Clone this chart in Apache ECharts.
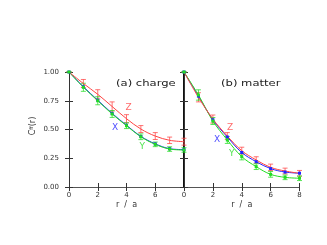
<!DOCTYPE html>
<html><head><meta charset="utf-8">
<script src="https://cdn.jsdelivr.net/npm/echarts@6/dist/echarts.min.js"></script>
<style>html,body{margin:0;padding:0;background:#fff}#c{width:327px;height:245px}</style>
</head><body><div id="c"></div>
<script>
var r = [0,1,2,3,4,5,6,7,8];
var xTicks = [0,2,4,6,8];
var yTicks = ['0.00','0.25','0.50','0.75','1.00'];
// (a) charge
var chargeZ = [1.00,0.90,0.806,0.70,0.594,0.504,0.443,0.406,0.394];
var chargeZerr = [0,0.035,0.04,0.04,0.035,0.03,0.03,0.028,0.03];
var chargeY = [1.00,0.867,0.75,0.635,0.533,0.437,0.371,0.33,0.322];
var chargeYerr = [0,0.035,0.035,0.03,0.025,0.025,0.02,0.02,0.02];
var chargeX = [1.00,0.872,0.755,0.64,0.537,0.44,0.375,0.333,0.325];
// (b) matter
var matterZ = [1.00,0.78,0.591,0.443,0.316,0.235,0.171,0.139,0.119];
var matterZerr = [0,0.04,0.035,0.03,0.03,0.028,0.028,0.025,0.025];
var matterY = [1.00,0.80,0.574,0.409,0.264,0.177,0.11,0.084,0.076];
var matterYerr = [0,0.045,0.03,0.03,0.028,0.025,0.025,0.02,0.02];
var matterX = [1.00,0.79,0.585,0.435,0.30,0.22,0.16,0.13,0.12];
// letter labels [r, value, text]
var chargeLabels = [[4.15,0.69,'Z'],[3.2,0.52,'X'],[5.1,0.35,'Y']];
var matterLabels = [[3.2,0.52,'Z'],[2.3,0.41,'X'],[3.3,0.29,'Y']];

var RED='#ff4444', GREEN='#22dd22', BLUE='#2222ff';
var font = 'DejaVu Sans';
function pairs(v){ return r.map(function(x,i){return [x,v[i]];}); }
function errSeries(xi, v, e, color){
  return {type:'custom', xAxisIndex:xi, yAxisIndex:xi, z:3,
    data: r.map(function(x,i){return [x, v[i]-e[i], v[i]+e[i]];}),
    renderItem: function(params, api){
      var lo = api.coord([api.value(0), api.value(1)]);
      var hi = api.coord([api.value(0), api.value(2)]);
      var w = 2.5;
      var st = {stroke: color, lineWidth: 1, opacity: 0.75};
      return {type:'group', children:[
        {type:'line', shape:{x1:lo[0],y1:lo[1],x2:hi[0],y2:hi[1]}, style:st},
        {type:'line', shape:{x1:lo[0]-w,y1:lo[1],x2:lo[0]+w,y2:lo[1]}, style:st},
        {type:'line', shape:{x1:hi[0]-w,y1:hi[1],x2:hi[0]+w,y2:hi[1]}, style:st}
      ]};
    }};
}
function lineSeries(xi, v, color, sym){
  return {type:'line', xAxisIndex:xi, yAxisIndex:xi, data: pairs(v), smooth:0.35,
    symbol: sym, symbolSize: 3, showSymbol: sym !== 'none',
    lineStyle:{color:color,width:1}, itemStyle:{color:color}, z:4};
}
function letterSeries(xi, labs){
  var cols = {Z:RED, X:BLUE, Y:GREEN};
  return {type:'scatter', xAxisIndex:xi, yAxisIndex:xi, symbolSize:0,
    data: labs.map(function(l){return {value:[l[0],l[1]], label:{show:true, formatter:l[2], color:cols[l[2]], fontSize:9, fontFamily:font, position:'inside'}};}),
    z:5};
}
function xAxisPair(gi, hideLast){
  var lab = {fontSize:7, color:'#333', fontFamily:font, margin:5,
    formatter: function(v){ if(hideLast && v===8) return ''; return String(v); }};
  return [
    {type:'value', gridIndex:gi, min:0, max:8, interval:2, position:'bottom',
     name:'r  /  a', nameLocation:'middle', nameGap:14, nameTextStyle:{fontSize:8,color:'#333',fontFamily:font},
     axisLine:{show:true,lineStyle:{color:'#333',width:1}}, axisTick:{show:true,inside:true,length:4,lineStyle:{color:'#333'}},
     axisLabel:lab, splitLine:{show:false}},
    {type:'value', gridIndex:gi, min:0, max:8, interval:2, position:'top',
     axisLine:{show:true,lineStyle:{color:'#555',width:1}}, axisTick:{show:true,inside:true,length:4,lineStyle:{color:'#333'}},
     axisLabel:{show:false}, splitLine:{show:false}}
  ];
}
function yAxisPair(gi, showLabels, leftWidth){
  return [
    {type:'value', gridIndex:gi, min:0, max:1, interval:0.25, position:'left',
     axisLine:{show:true,lineStyle:{color:'#111',width:leftWidth}}, axisTick:{show:true,inside:true,length:4,lineStyle:{color:'#333'}},
     axisLabel:{show:showLabels, fontSize:7, color:'#333', fontFamily:font, margin:10,
       formatter:function(v){return yTicks[Math.round(v*4)];}}, splitLine:{show:false}},
    {type:'value', gridIndex:gi, min:0, max:1, interval:0.25, position:'right',
     axisLine:{show:true,lineStyle:{color:'#333',width:1}}, axisTick:{show:true,inside:true,length:4,lineStyle:{color:'#333'}},
     axisLabel:{show:false}, splitLine:{show:false}}
  ];
}
var xa = xAxisPair(0,true).concat(xAxisPair(1,false));
var ya = yAxisPair(0,true,1).concat(yAxisPair(1,false,2));
var series = [];
function addPanel(gi, Z, Zerr, Y, Yerr, X, labs){
  var xi = gi*2;
  series.push(
    errSeries(xi, Z, Zerr, RED),
    errSeries(xi, Y, Yerr, GREEN),
    lineSeries(xi, X, BLUE, 'rect'),
    lineSeries(xi, Y, GREEN, 'rect'),
    lineSeries(xi, Z, RED, 'none'),
    letterSeries(xi, labs)
  );
}
addPanel(0, chargeZ, chargeZerr, chargeY, chargeYerr, chargeX, chargeLabels);
addPanel(1, matterZ, matterZerr, matterY, matterYerr, matterX, matterLabels);

var chart = echarts.init(document.getElementById('c'), null, {renderer:'canvas'});
chart.setOption({
  animation:false,
  backgroundColor:'#fff',
  grid:[{left:69, top:72, width:115, height:115},{left:184, top:72, width:115.5, height:115}],
  xAxis: xa,
  yAxis: ya,
  series: series,
  graphic:[
    {type:'text', x:116, y:80, scaleX:1.45, style:{text:'(a) charge', fontSize:8, fill:'#222', fontFamily:font}},
    {type:'text', x:221, y:80, scaleX:1.45, style:{text:'(b) matter', fontSize:8, fill:'#222', fontFamily:font}},
    {type:'text', x:33, y:126, rotation:Math.PI/2, style:{
      text:'{c|C}{s|ff}{c|(r)}', align:'center', verticalAlign:'middle',
      rich:{c:{fontSize:8,fill:'#333',fontFamily:font}, s:{fontSize:5,fill:'#333',fontFamily:font,verticalAlign:'top'}}}}
  ]
});
</script></body></html>
